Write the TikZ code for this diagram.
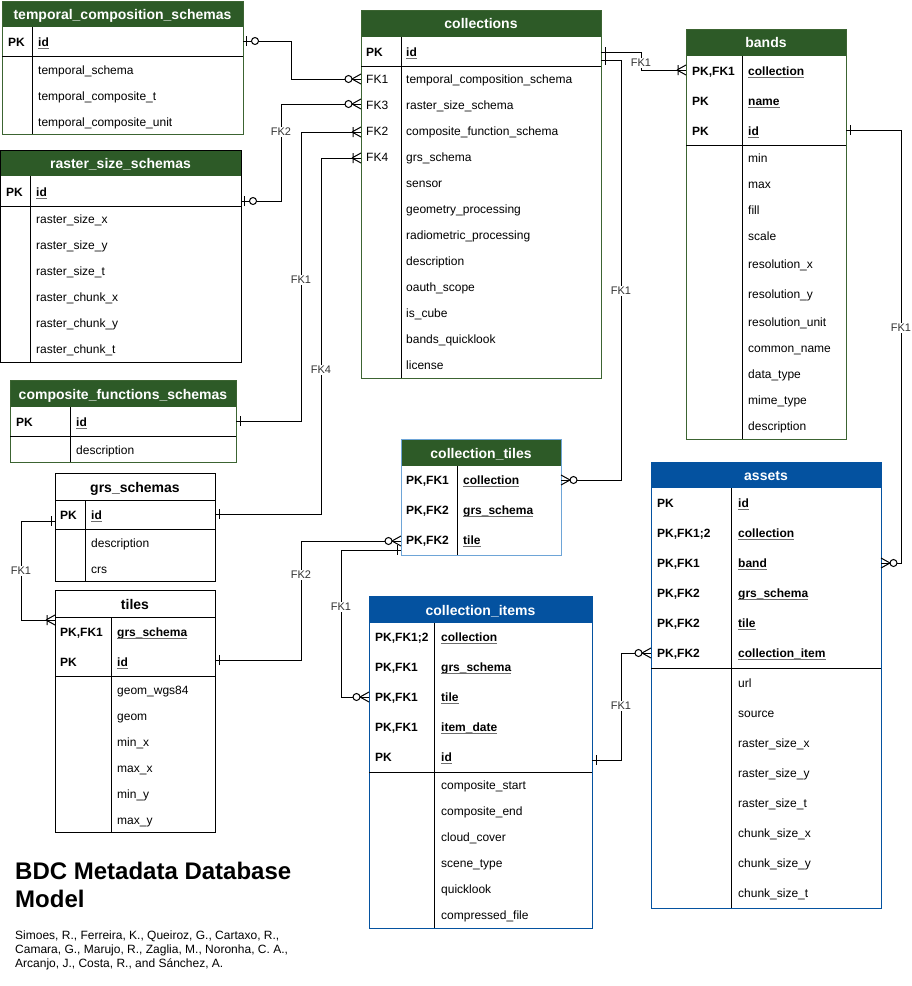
\documentclass[tikz,border=0pt]{standalone}
\usepackage{fontspec}
\setmainfont{Liberation Sans}
\usetikzlibrary{calc}
\definecolor{hgreen}{RGB}{45,90,39}
\definecolor{hblue}{RGB}{4,82,160}
\definecolor{gbord}{RGB}{60,100,50}
\definecolor{ctbord}{RGB}{110,165,215}
\definecolor{lblc}{RGB}{51,51,51}
\definecolor{ulc}{RGB}{110,110,110}
\newcounter{fc}
\tikzset{
  fldst/.style={anchor=base west, inner sep=0pt, font=\fontsize{12}{14}\selectfont},
  keyst/.style={anchor=base west, inner sep=0pt, font=\fontsize{12}{14}\selectfont\bfseries},
  ttlw/.style={anchor=base, inner sep=0pt, text=white, font=\fontsize{14}{16}\selectfont\bfseries},
  ttlk/.style={anchor=base, inner sep=0pt, text=black, font=\fontsize{14}{16}\selectfont\bfseries},
  gbd/.style={draw=gbord, line width=1pt},
  kbd/.style={draw=black, line width=1pt},
  bbd/.style={draw=hblue, line width=1pt},
  cbd/.style={draw=ctbord, line width=1pt},
  dv/.style={draw=black, line width=1pt},
  conn/.style={draw=black, line width=1pt},
  ulst/.style={draw=ulc, line width=0.9pt},
  lbl/.style={fill=white, inner sep=1pt, text=lblc, font=\fontsize{11}{12}\selectfont},
  zmany/.pic={\draw[conn] (-9,0) -- (0,-5) (-9,0) -- (0,5);
              \draw[conn, fill=white] (-12.5,0) circle[radius=3.5pt];},
  omany/.pic={\draw[conn] (-9,0) -- (0,-5) (-9,0) -- (0,5) (-8,-5) -- (-8,5);},
  oneb/.pic={\draw[conn] (-4,-5) -- (-4,5);},
  zone/.pic={\draw[conn] (-3,-5) -- (-3,5);
             \draw[conn, fill=white] (-12,0) circle[radius=3.5pt];},
}
\newcommand\fl[3]{\stepcounter{fc}\node[fldst] (f\arabic{fc}) at (#1,{#2+4.3}) {#3};}
\newcommand\kf[3]{\stepcounter{fc}\node[keyst] (f\arabic{fc}) at (#1,{#2+4.3}) {#3};}
\newcommand\pf[3]{\stepcounter{fc}\node[keyst] (f\arabic{fc}) at (#1,{#2+4.3}) {#3};
  \draw[ulst] ($(f\arabic{fc}.base west)+(0,2.2)$) -- ($(f\arabic{fc}.base east)+(0,2.2)$);}
\begin{document}
\begin{tikzpicture}[x=1pt,y=-1pt]
\useasboundingbox (0,0) rectangle (912,986);

% ---------- temporal_composition_schemas
\fill[hgreen] (2,1) rectangle (243,27);
\draw[gbd] (2,1) rectangle (243,134);
\draw[dv] (2,56) -- (243,56) (32,27) -- (32,134);
\node[ttlw] (tcs) at (122.5,19) {temporal\_composition\_schemas};
\kf{8}{42}{PK}\pf{38}{42}{id}
\fl{38}{70}{temporal\_schema}
\fl{38}{96}{temporal\_composite\_t}
\fl{38}{122}{temporal\_composite\_unit}

% ---------- raster_size_schemas
\fill[hgreen] (0,150) rectangle (241,176);
\draw[kbd] (0,150) rectangle (241,362);
\draw[dv] (0,206) -- (241,206) (30,176) -- (30,362);
\node[ttlw] (rss) at (120.5,168) {raster\_size\_schemas};
\kf{6}{192}{PK}\pf{36}{192}{id}
\fl{36}{219}{raster\_size\_x}
\fl{36}{245}{raster\_size\_y}
\fl{36}{271}{raster\_size\_t}
\fl{36}{297}{raster\_chunk\_x}
\fl{36}{323}{raster\_chunk\_y}
\fl{36}{349}{raster\_chunk\_t}

% ---------- composite_functions_schemas
\fill[hgreen] (10,380) rectangle (236,407);
\draw[gbd] (10,380) rectangle (236,462);
\draw[dv] (10,436) -- (236,436) (70,407) -- (70,462);
\node[ttlw] (cfs) at (123,399) {composite\_functions\_schemas};
\kf{16}{422}{PK}\pf{76}{422}{id}
\fl{76}{450}{description}

% ---------- grs_schemas
\draw[kbd] (55,473) rectangle (215,581);
\draw[dv] (55,500) -- (215,500) (55,529) -- (215,529) (85,500) -- (85,581);
\node[ttlk] (grs) at (135,492) {grs\_schemas};
\kf{60}{515}{PK}\pf{91}{515}{id}
\fl{91}{543}{description}
\fl{91}{569}{crs}

% ---------- tiles
\draw[kbd] (55,590) rectangle (215,832);
\draw[dv] (55,617) -- (215,617) (55,676) -- (215,676) (111,617) -- (111,832);
\node[ttlk] (tiles) at (135,609) {tiles};
\kf{60}{632}{PK,FK1}\pf{117}{632}{grs\_schema}
\kf{60}{662}{PK}\pf{117}{662}{id}
\fl{117}{690}{geom\_wgs84}
\fl{117}{716}{geom}
\fl{117}{742}{min\_x}
\fl{117}{768}{max\_x}
\fl{117}{794}{min\_y}
\fl{117}{820}{max\_y}

% ---------- collections
\fill[hgreen] (361,10) rectangle (601,37);
\draw[gbd] (361,10) rectangle (601,378);
\draw[dv] (361,66) -- (601,66) (401,37) -- (401,378);
\node[ttlw] (coll) at (481,28) {collections};
\kf{366}{52}{PK}\pf{406}{52}{id}
\fl{366}{79}{FK1}\fl{406}{79}{temporal\_composition\_schema}
\fl{366}{105}{FK3}\fl{406}{105}{raster\_size\_schema}
\fl{366}{131}{FK2}\fl{406}{131}{composite\_function\_schema}
\fl{366}{157}{FK4}\fl{406}{157}{grs\_schema}
\fl{406}{183}{sensor}
\fl{406}{209}{geometry\_processing}
\fl{406}{235}{radiometric\_processing}
\fl{406}{261}{description}
\fl{406}{287}{oauth\_scope}
\fl{406}{313}{is\_cube}
\fl{406}{339}{bands\_quicklook}
\fl{406}{365}{license}

% ---------- bands
\fill[hgreen] (686,29) rectangle (846,56);
\draw[gbd] (686,29) rectangle (846,439);
\draw[dv] (686,145) -- (846,145) (742,56) -- (742,439);
\node[ttlw] (bands) at (766,47) {bands};
\kf{692}{71}{PK,FK1}\pf{748}{71}{collection}
\kf{692}{101}{PK}\pf{748}{101}{name}
\kf{692}{131}{PK}\pf{748}{131}{id}
\fl{748}{158}{min}
\fl{748}{184}{max}
\fl{748}{210}{fill}
\fl{748}{236}{scale}
\fl{748}{264}{resolution\_x}
\fl{748}{294}{resolution\_y}
\fl{748}{322}{resolution\_unit}
\fl{748}{348}{common\_name}
\fl{748}{374}{data\_type}
\fl{748}{400}{mime\_type}
\fl{748}{426}{description}

% ---------- collection_tiles
\fill[hgreen] (401,439) rectangle (561,466);
\draw[cbd] (401,439) rectangle (561,555);
\draw[dv] (457,466) -- (457,555);
\node[ttlw] (ctiles) at (481,458) {collection\_tiles};
\kf{406}{480}{PK,FK1}\pf{463}{480}{collection}
\kf{406}{510}{PK,FK2}\pf{463}{510}{grs\_schema}
\kf{406}{540}{PK,FK2}\pf{463}{540}{tile}

% ---------- assets
\fill[hblue] (651,462) rectangle (881,488);
\draw[bbd] (651,462) rectangle (881,908);
\draw[dv] (651,668) -- (881,668) (731,488) -- (731,908);
\node[ttlw] (assets) at (766,480) {assets};
\kf{657}{503}{PK}\pf{738}{503}{id}
\kf{657}{533}{PK,FK1;2}\pf{738}{533}{collection}
\kf{657}{563}{PK,FK1}\pf{738}{563}{band}
\kf{657}{593}{PK,FK2}\pf{738}{593}{grs\_schema}
\kf{657}{623}{PK,FK2}\pf{738}{623}{tile}
\kf{657}{653}{PK,FK2}\pf{738}{653}{collection\_item}
\fl{738}{683}{url}
\fl{738}{713}{source}
\fl{738}{743}{raster\_size\_x}
\fl{738}{773}{raster\_size\_y}
\fl{738}{803}{raster\_size\_t}
\fl{738}{833}{chunk\_size\_x}
\fl{738}{863}{chunk\_size\_y}
\fl{738}{893}{chunk\_size\_t}

% ---------- collection_items
\fill[hblue] (369,596) rectangle (592,623);
\draw[bbd] (369,596) rectangle (592,928);
\draw[dv] (369,772) -- (592,772) (434,623) -- (434,928);
\node[ttlw] (citems) at (480.5,615) {collection\_items};
\kf{375}{637}{PK,FK1;2}\pf{441}{637}{collection}
\kf{375}{667}{PK,FK1}\pf{441}{667}{grs\_schema}
\kf{375}{697}{PK,FK1}\pf{441}{697}{tile}
\kf{375}{727}{PK,FK1}\pf{441}{727}{item\_date}
\kf{375}{757}{PK}\pf{441}{757}{id}
\fl{441}{785}{composite\_start}
\fl{441}{811}{composite\_end}
\fl{441}{837}{cloud\_cover}
\fl{441}{863}{scene\_type}
\fl{441}{889}{quicklook}
\fl{441}{915}{compressed\_file}

% ---------- ports
\coordinate (tcs-id) at (243,41);
\coordinate (col-fk1) at (361,79);
\coordinate (rss-id) at (241,201);
\coordinate (col-fk3) at (361,104);
\coordinate (cfs-id) at (236,421);
\coordinate (col-fk2) at (361,132);
\coordinate (grs-id) at (215,514);
\coordinate (col-fk4) at (361,158);
\coordinate (col-id1) at (601,52);
\coordinate (bands-col) at (686,70);
\coordinate (col-id2) at (601,60);
\coordinate (ct-col) at (561,480);
\coordinate (bands-id) at (846,130);
\coordinate (as-band) at (881,563);
\coordinate (grs-l) at (55,521);
\coordinate (tiles-l) at (55,620);
\coordinate (tiles-id) at (215,660);
\coordinate (ct-tile) at (401,541);
\coordinate (ct-l) at (401,550);
\coordinate (ci-tile) at (369,697);
\coordinate (ci-id) at (592,760);
\coordinate (as-ci) at (651,653);

% ---------- connectors
\draw[conn] (tcs-id) -- ++(48,0) |- (col-fk1);
\draw[conn] (rss-id) -- ++(40,0) |- (col-fk3);
\draw[conn] (cfs-id) -- ++(65,0) |- (col-fk2);
\draw[conn] (grs-id) -- ++(106,0) |- (col-fk4);
\draw[conn] (col-id1) -- ++(40,0) |- (bands-col);
\draw[conn] (col-id2) -- ++(20,0) |- (ct-col);
\draw[conn] (bands-id) -- ++(55,0) |- (as-band);
\draw[conn] (grs-l) -- ++(-34,0) |- (tiles-l);
\draw[conn] (tiles-id) -- ++(86,0) |- (ct-tile);
\draw[conn] (ct-l) -- ++(-60,0) |- (ci-tile);
\draw[conn] (ci-id) -- ++(29,0) |- (as-ci);

% ---------- end markers
\pic[rotate=180] at (tcs-id) {zone};
\pic at (col-fk1) {zmany};
\pic[rotate=180] at (rss-id) {zone};
\pic at (col-fk3) {zmany};
\pic[rotate=180] at (cfs-id) {oneb};
\pic at (col-fk2) {omany};
\pic[rotate=180] at (grs-id) {oneb};
\pic at (col-fk4) {omany};
\pic[rotate=180] at (col-id1) {oneb};
\pic at (bands-col) {omany};
\pic[rotate=180] at (col-id2) {oneb};
\pic[rotate=180] at (ct-col) {zmany};
\pic[rotate=180] at (bands-id) {oneb};
\pic[rotate=180] at (as-band) {zmany};
\pic at (grs-l) {oneb};
\pic at (tiles-l) {omany};
\pic[rotate=180] at (tiles-id) {oneb};
\pic at (ct-tile) {zmany};
\pic at (ct-l) {oneb};
\pic at (ci-tile) {zmany};
\pic[rotate=180] at (ci-id) {oneb};
\pic at (as-ci) {zmany};

% ---------- connector labels
\node[lbl] (l1) at (281,132) {FK2};
\node[lbl] (l2) at (301,280) {FK1};
\node[lbl] (l3) at (321,370) {FK4};
\node[lbl] (l4) at (641,63) {FK1};
\node[lbl] (l5) at (621,291) {FK1};
\node[lbl] (l6) at (901,328) {FK1};
\node[lbl] (l7) at (21,571) {FK1};
\node[lbl] (l8) at (301,575) {FK2};
\node[lbl] (l9) at (341,607) {FK1};
\node[lbl] (l10) at (621,706) {FK1};

% ---------- title and authors
\node[anchor=base west, inner sep=0pt, font=\fontsize{24}{28}\selectfont\bfseries] (title1) at (15,879) {BDC Metadata Database};
\node[anchor=base west, inner sep=0pt, font=\fontsize{24}{28}\selectfont\bfseries] (title2) at (15,907) {Model};
\node[anchor=base west, inner sep=0pt, font=\fontsize{12}{14}\selectfont] (au1) at (15,939) {Simoes, R., Ferreira, K., Queiroz, G., Cartaxo, R.,};
\node[anchor=base west, inner sep=0pt, font=\fontsize{12}{14}\selectfont] (au2) at (15,953) {Camara, G., Marujo, R., Zaglia, M., Noronha, C. A.,};
\node[anchor=base west, inner sep=0pt, font=\fontsize{12}{14}\selectfont] (au3) at (15,967) {Arcanjo, J., Costa, R., and Sánchez, A.};
\end{tikzpicture}
\end{document}
